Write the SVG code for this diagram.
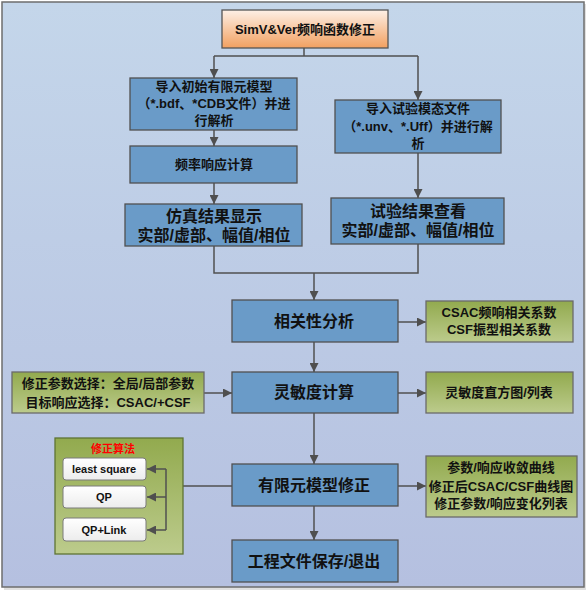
<svg xmlns="http://www.w3.org/2000/svg" width="588" height="592" viewBox="0 0 588 592">
<defs>
<linearGradient id="bg" x1="0" y1="0" x2="0" y2="1"><stop offset="0" stop-color="#c4d6ea"/><stop offset="1" stop-color="#b5c0e0"/></linearGradient>
<linearGradient id="org" x1="0" y1="0" x2="0" y2="1"><stop offset="0" stop-color="#fdf0e6"/><stop offset="1" stop-color="#f2a060"/></linearGradient>
<linearGradient id="grn" x1="0" y1="0" x2="0" y2="1"><stop offset="0" stop-color="#92aa4e"/><stop offset="1" stop-color="#bccb8c"/></linearGradient>
<linearGradient id="wht" x1="0" y1="0" x2="0" y2="1"><stop offset="0" stop-color="#ffffff"/><stop offset="1" stop-color="#ececec"/></linearGradient>
<marker id="ar" viewBox="0 0 10 10" refX="10" refY="5" markerWidth="9" markerHeight="9" markerUnits="userSpaceOnUse" orient="auto"><path d="M0,0 L10,5 L0,10 z" fill="#4f4f4f"/></marker>
</defs>
<style>
.blue{fill:#6a9bc8;stroke:#505050;stroke-width:1.3}
.green{fill:url(#grn);stroke:#6a6a6a;stroke-width:1.3}
.wb{fill:url(#wht);stroke:#7a7a7a;stroke-width:1}
.cn{stroke:#505050;stroke-width:1.5;fill:none}
.ca{stroke:#505050;stroke-width:1.5;fill:none;marker-end:url(#ar)}
text{font-family:"Liberation Sans","Noto Sans CJK SC",sans-serif;fill:#111;text-anchor:middle;dominant-baseline:central}
.t16{font-size:16px;font-weight:bold}
.t13{font-size:13px;font-weight:bold}
.t11{font-size:11px;font-weight:bold}
</style>
<rect x="4" y="4" width="582" height="586" fill="#e0e0e0"/>
<rect x="2" y="2" width="582" height="585" fill="url(#bg)" stroke="#6e6e6e" stroke-width="1.5"/>

<g id="connectors">
<path class="cn" d="M304,48 V56 M214,56 H418"/>
<path class="ca" d="M214,56 V78"/>
<path class="ca" d="M418,56 V100"/>
<path class="ca" d="M214,130 V146"/>
<path class="ca" d="M214,183 V204"/>
<path class="ca" d="M418,153 V198"/>
<path class="cn" d="M214,246 V273 H418 V244"/>
<path class="ca" d="M314,273 V300"/>
<path class="ca" d="M398,322 H426"/>
<path class="ca" d="M314,342 V372"/>
<path class="ca" d="M204,393 H232"/>
<path class="ca" d="M398,393 H426"/>
<path class="ca" d="M314,413 V464"/>
<path class="ca" d="M398,486 H426"/>
<path class="ca" d="M314,506 V540"/>
<path class="cn" d="M183,486 H232"/>
</g>

<g id="start">
<rect x="222" y="10" width="166" height="38" fill="url(#org)" stroke="#555" stroke-width="1.3"/>
<text class="t13" x="305" y="29">SimV&amp;Ver频响函数修正</text>
</g>

<g id="import-fem">
<rect class="blue" x="130" y="78" width="167" height="52"/>
<text class="t13" x="214" y="86">导入初始有限元模型</text>
<text class="t13" x="214" y="103">（*.bdf、*CDB文件）并进</text>
<text class="t13" x="214" y="120">行解析</text>
</g>

<g id="freq-resp">
<rect class="blue" x="130" y="146" width="167" height="37"/>
<text class="t13" x="214" y="164">频率响应计算</text>
</g>

<g id="sim-result">
<rect class="blue" x="125" y="204" width="177" height="42"/>
<text class="t16" x="214" y="216">仿真结果显示</text>
<text class="t16" x="214" y="235">实部/虚部、幅值/相位</text>
</g>

<g id="import-test">
<rect class="blue" x="335" y="100" width="166" height="53"/>
<text class="t13" x="418" y="108">导入试验模态文件</text>
<text class="t13" x="418" y="126">（*.unv、*.Uff）并进行解</text>
<text class="t13" x="418" y="143">析</text>
</g>

<g id="test-result">
<rect class="blue" x="331" y="198" width="173" height="46"/>
<text class="t16" x="418" y="211">试验结果查看</text>
<text class="t16" x="418" y="230">实部/虚部、幅值/相位</text>
</g>

<g id="correlation">
<rect class="blue" x="232" y="300" width="166" height="42"/>
<text class="t16" x="314" y="321">相关性分析</text>
</g>

<g id="corr-out">
<rect class="green" x="426" y="301" width="147" height="41"/>
<text class="t13" x="499" y="312">CSAC频响相关系数</text>
<text class="t13" x="499" y="329">CSF振型相关系数</text>
</g>

<g id="sensitivity">
<rect class="blue" x="232" y="372" width="166" height="41"/>
<text class="t16" x="314" y="392">灵敏度计算</text>
</g>

<g id="param-select">
<rect class="green" x="12" y="372" width="192" height="41"/>
<text class="t13" x="108" y="383">修正参数选择：全局/局部参数</text>
<text class="t13" x="108" y="402">目标响应选择：CSAC/+CSF</text>
</g>

<g id="sens-out">
<rect class="green" x="426" y="372" width="147" height="41"/>
<text class="t13" x="499" y="392">灵敏度直方图/列表</text>
</g>

<g id="fem-update">
<rect class="blue" x="232" y="464" width="166" height="42"/>
<text class="t16" x="314" y="485">有限元模型修正</text>
</g>

<g id="update-out">
<rect class="green" x="426" y="456" width="151" height="61"/>
<text class="t13" x="501" y="467">参数/响应收敛曲线</text>
<text class="t13" x="501" y="486">修正后CSAC/CSF曲线图</text>
<text class="t13" x="501" y="503">修正参数/响应变化列表</text>
</g>

<g id="save-exit">
<rect class="blue" x="232" y="540" width="166" height="42"/>
<text class="t16" x="314" y="561">工程文件保存/退出</text>
</g>

<g id="algorithms">
<rect x="55" y="438" width="128" height="116" fill="url(#grn)" stroke="#5e7434" stroke-width="1.3"/>
<text class="t11" x="113" y="449" style="fill:#ff0000">修正算法</text>
<rect class="wb" x="63" y="458" width="83" height="22" rx="3"/>
<text class="t11" x="104" y="469">least square</text>
<rect class="wb" x="63" y="486" width="83" height="22" rx="3"/>
<text class="t11" x="104" y="497">QP</text>
<rect class="wb" x="63" y="518" width="83" height="23" rx="3"/>
<text class="t11" x="104" y="530">QP+Link</text>
<path class="cn" d="M166,469 V530"/>
<path class="ca" d="M166,469 H147"/>
<path class="ca" d="M166,497 H147"/>
<path class="ca" d="M166,530 H147"/>
</g>
</svg>
